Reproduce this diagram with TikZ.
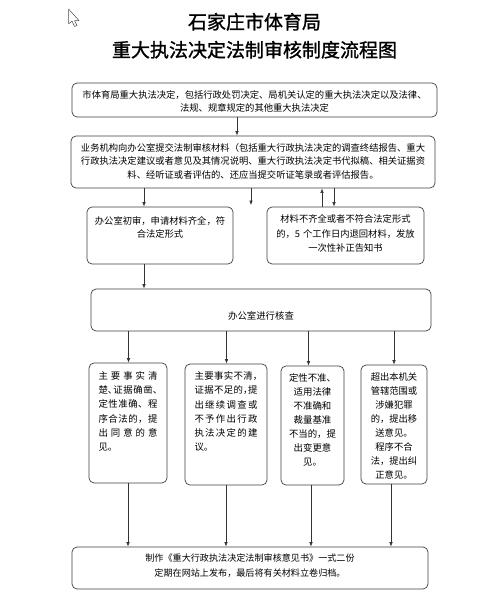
\documentclass[tikz,border=0pt]{standalone}
\usepackage{fontspec}
\usepackage{tikz}
\usetikzlibrary{arrows.meta}
\newfontfamily\cjk{Noto Sans CJK SC}
\newfontfamily\cjktitle{Noto Sans CJK SC}[FakeBold=1.2]
\newcommand{\hp}[1]{\makebox[0.5em][l]{#1}}
\newcommand{\spread}[1]{\makebox[\linewidth][s]{#1}}

\begin{document}
\begin{tikzpicture}[x=1pt, y=-1pt,
	box/.style={draw=black!75, line width=0.7pt, rounded corners=5pt, inner sep=0pt, align=center, font=\cjk\fontsize{9.4}{14}\selectfont},
	link/.style={-{Latex[length=4.5pt,width=3.5pt]}, draw=black!80, line width=0.6pt}]
				\useasboundingbox (0,0) rectangle (503,613);
				\fill[white] (0,0) rectangle (503,613);
				% pointer in the corner
				\draw[fill=white, draw=black!70, line width=0.5pt, line join=round] (68.5,9) -- (68.5,24) -- (72,21) -- (74.5,26.5) -- (77,25.5) -- (74.5,20.5) -- (79,20.5) -- cycle;
				% title
				\node[anchor=base, font=\cjktitle\fontsize{19}{19}\selectfont] (bt1) at (254.5,29) {石家庄市体育局};
				\node[anchor=base, font=\cjktitle\fontsize{19}{19}\selectfont] (bt2) at (254.5,57) {重大执法决定法制审核制度流程图};
				% boxes
				\node[box, font=\cjk\fontsize{9.3}{13}\selectfont, text width=365pt, text height=15.5pt, text depth=18.5pt] (sj) at (254.5,100) {市体育局重大执法决定，包括行政处罚决定、局机关认定的重大执法决定以及法律、\\法规、规章规定的其他重大执法决定};
				\node[box, font=\cjk\fontsize{9.3}{13.6}\selectfont, text width=364pt, text height=15pt, text depth=37pt] (tj) at (253,162) {业务机构向办公室提交法制审核材料（包括重大行政执法决定的调查终结报告、重大\\行政执法决定建议或者意见及其情况说明、重大行政执法决定书代拟稿、相关证据资\\料、经听证或者评估的、还应当提交听证笔录或者评估报告。};
				\node[box, font=\cjk\fontsize{9.3}{13}\selectfont, text width=146pt, text height=17.5pt, text depth=39.5pt] (cs) at (160,235.5) {办公室初审，申请材料齐全，符\\合法定形式};
				\node[box, text width=157pt, font=\cjk\fontsize{9.3}{14.6}\selectfont, text height=15.5pt, text depth=41.5pt] (th) at (345.5,235.5) {材料不齐全或者不符合法定形式\\的，5 个工作日内退回材料，发放\\一次性补正告知书};
				\node[box, text width=340pt, text height=30.5pt, text depth=11.5pt] (hc) at (261,310) {办公室进行核查};
				\node[box, align=left, inner xsep=9.5pt, text width=59pt, font=\cjk\fontsize{9.4}{14.2}\selectfont, text height=16.5pt, text depth=103.5pt] (ty) at (128,423) {\spread{主\hfill 要\hfill 事\hfill 实\hfill 清}\\\spread{楚\hp{、}\hfill 证\hfill 据\hfill 确\hfill 凿\hp{、}}\\\spread{定\hfill 性\hfill 准\hfill 确\hfill 、\hfill 程}\\\spread{序\hfill 合\hfill 法\hfill 的\hfill ，\hfill 提}\\\spread{出\hfill 同\hfill 意\hfill 的\hfill 意}\\见。};
				\node[box, align=left, inner xsep=9.5pt, text width=63pt, font=\cjk\fontsize{9.4}{14.2}\selectfont, text height=15.6pt, text depth=105.4pt] (dc) at (226,424.5) {\spread{主\hfill 要\hfill 事\hfill 实\hfill 不\hfill 清\hp{，}}\\\spread{证\hfill 据\hfill 不\hfill 足\hfill 的\hp{，}\hfill 提}\\\spread{出\hfill 继\hfill 续\hfill 调\hfill 查\hfill 或}\\\spread{不\hfill 予\hfill 作\hfill 出\hfill 行\hfill 政}\\\spread{执\hfill 法\hfill 决\hfill 定\hfill 的\hfill 建}\\议。};
				\node[box, text width=63pt, text height=15.5pt, text depth=103.5pt] (bg) at (312.5,425.5) {定性不准、\\适用法律\\不准确和\\裁量基准\\不当的，提\\出变更意\\见。};
				\node[box, text width=66pt, font=\cjk\fontsize{9.3}{14}\selectfont, text height=15.5pt, text depth=103.5pt] (ys) at (394,424.5) {超出本机关\\管辖范围或\\涉嫌犯罪\\的，提出移\\送意见。\\程序不合\\法，提出纠\\正意见。};
				\node[box, font=\cjk\fontsize{9.1}{14.4}\selectfont, text width=356pt, text height=14.8pt, text depth=27.2pt] (zz) at (250,568) {制作《重大行政执法决定法制审核意见书》一式二份\\定期在网站上发布，最后将有关材料立卷归档。};
				\coordinate (kong) at (251,205);
				% connectors
				\draw[link] ([xshift=-17.5pt]sj.south) -- ([xshift=-16pt]tj.north);
				\draw[link] ([xshift=-109pt]tj.south) -- ([xshift=-16pt]cs.north);
				\draw[link] ([xshift=-2pt]tj.south) -- (kong);
				\draw[link] ([xshift=-23.5pt]th.north) -- ([xshift=69pt]tj.south);
				\draw[link] ([xshift=81pt]tj.south) -- ([xshift=-11.5pt]th.north);
				\draw[link] ([xshift=-16pt]cs.south) -- ([xshift=-117pt]hc.north);
				\draw[link] ([xshift=-132.5pt]hc.south) -- ([xshift=0.5pt]ty.north);
				\draw[link] ([xshift=-34.5pt]hc.south) -- ([xshift=0.5pt]dc.north);
				\draw[link] ([xshift=47.5pt]hc.south) -- ([xshift=-4pt]bg.north);
				\draw[link] ([xshift=133pt]hc.south) -- (ys.north);
				\draw[link] (ty.south) -- ([xshift=-122pt]zz.north);
				\draw[link] (dc.south) -- ([xshift=-24pt]zz.north);
				\draw[link] ([xshift=-1.5pt]bg.south) -- ([xshift=61pt]zz.north);
				\draw[link] ([xshift=-3pt]ys.south) -- ([xshift=141pt]zz.north);
				\end{tikzpicture}
\end{document}
